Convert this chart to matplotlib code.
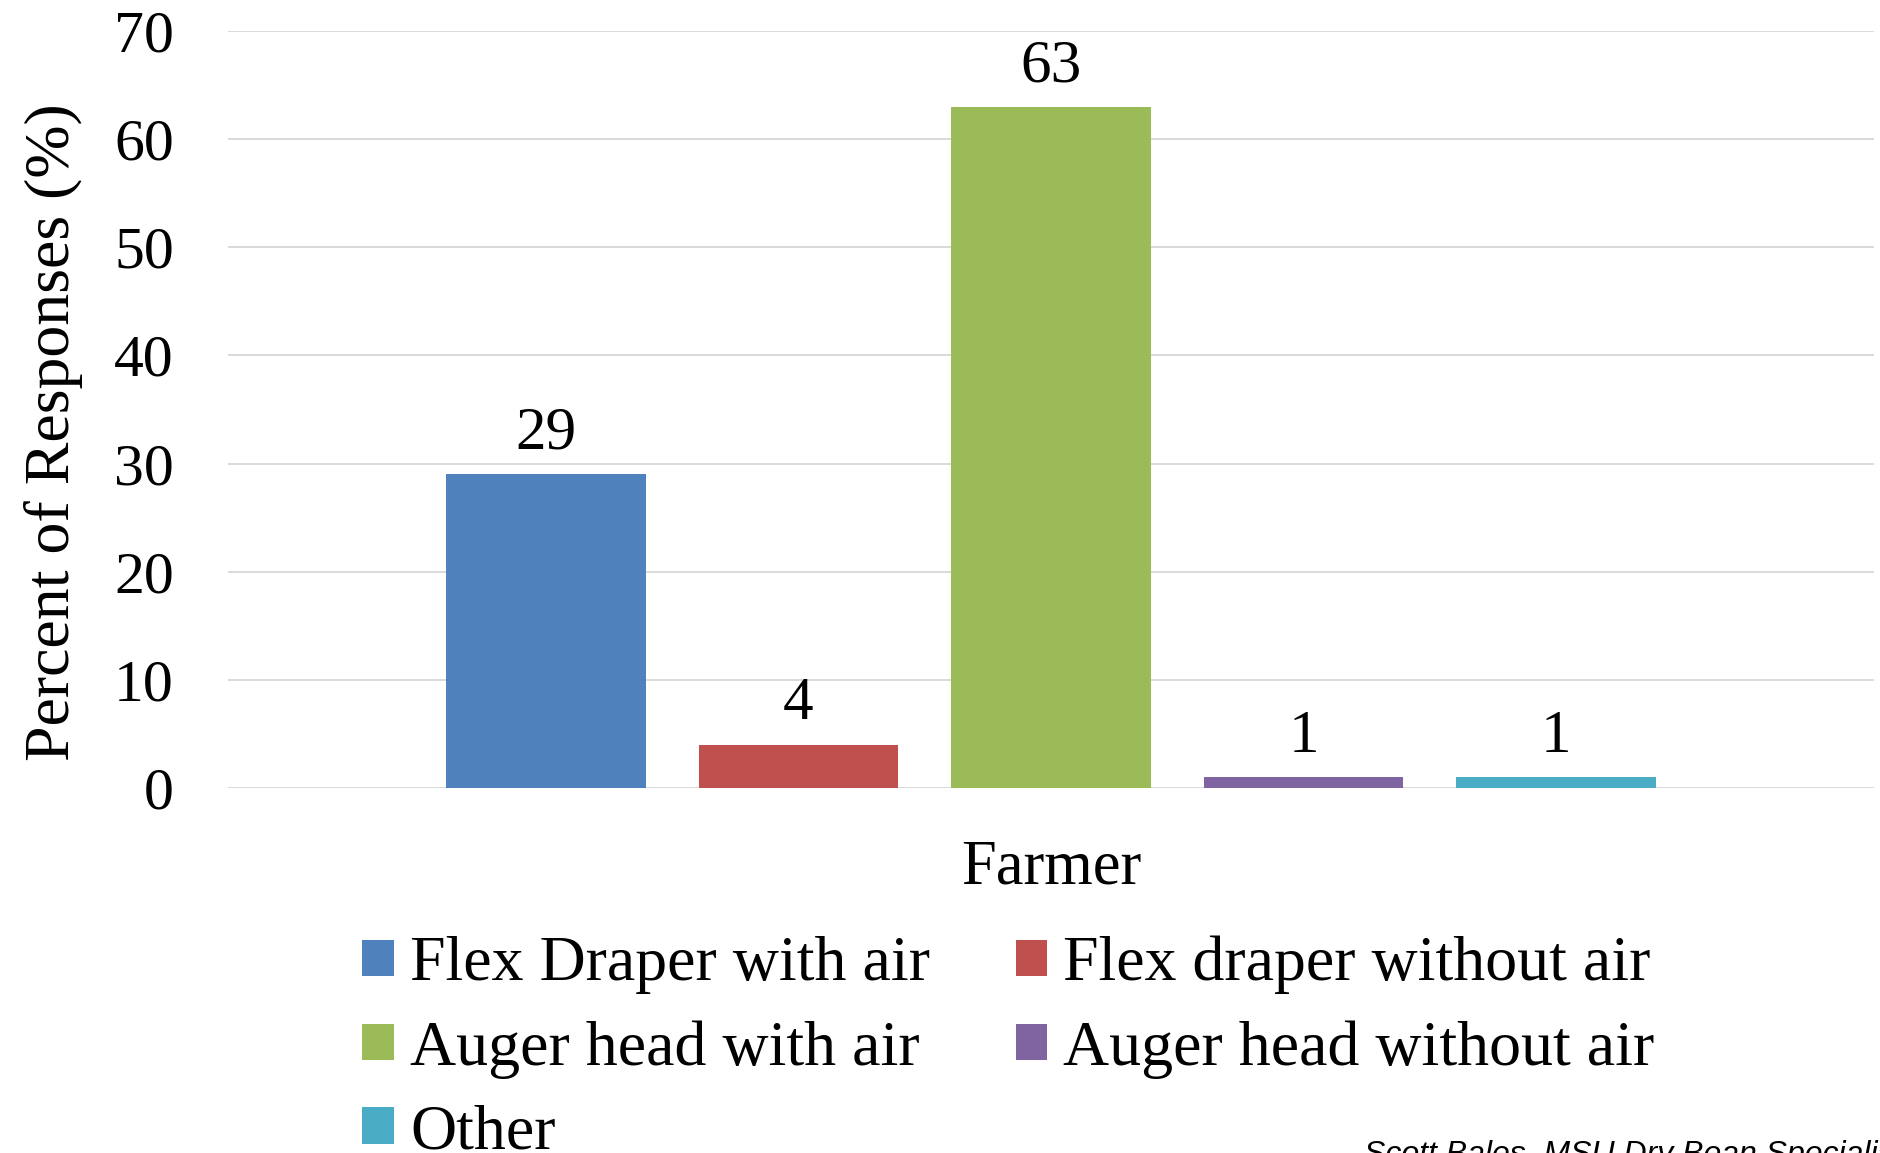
import matplotlib.pyplot as plt
from matplotlib.patches import Patch

## chart data
category = "Farmer"
series = ["Flex Draper with air", "Flex draper without air", "Auger head with air",
          "Auger head without air", "Other"]
values = [29, 4, 63, 1, 1]
colors = ["#4F81BD", "#C0504D", "#9BBB59", "#8064A2", "#4BACC6"]
yticks = [0, 10, 20, 30, 40, 50, 60, 70]

plt.rcParams["font.family"] = ["Liberation Serif", "DejaVu Serif"]

W, H = 1880, 1153
fig = plt.figure(figsize=(W / 100, H / 100), dpi=100)
ax = fig.add_axes([228 / W, 1 - 788 / H, (1874 - 228) / W, (788 - 31) / H])

pitch = 0.1534
width = 0.121
for i, (name, v, c) in enumerate(zip(series, values, colors)):
    x = (i - 2) * pitch
    ax.bar(x, v, width=width, color=c, label=name, zorder=2)
    ax.annotate(str(v), (x, v), xytext=(0, 9), textcoords="offset points",
                ha="center", va="bottom", fontsize=44, annotation_clip=False)

ax.set_xlim(-0.5, 0.5)
ax.set_ylim(0, 70)
ax.set_yticks(yticks)
ax.set_xticks([0])
ax.set_xticklabels([category])
ax.tick_params(axis="y", length=0, pad=39, labelsize=43)
ax.tick_params(axis="x", length=0, pad=37, labelsize=45)
ax.yaxis.grid(True, color="#D9D9D9", linewidth=1.4, zorder=0)
ax.set_axisbelow(True)
for s in ax.spines.values():
    s.set_visible(False)

ax.set_ylabel("Percent of Responses (%)", fontsize=46, va="center")
ax.yaxis.set_label_coords(-0.106, 0.47)

## legend in row order (matplotlib fills columns first)
order = [0, 2, 4, 1, 3]
handles = [Patch(facecolor=colors[i]) for i in order]
labels = [series[i] for i in order]
fig.legend(handles, labels, ncol=2, frameon=False, fontsize=46,
           loc="upper left", bbox_to_anchor=(362 / W, 1 - 936 / H),
           handlelength=0.5, handleheight=0.5, handletextpad=0.25,
           labelspacing=0.4, columnspacing=1.34, borderaxespad=0, borderpad=0)

fig.text(1364 / W, 1 - 1140 / H, "Scott Bales, MSU Dry Bean Specialist",
         fontsize=23, style="italic", family=["Liberation Sans", "DejaVu Sans"],
         ha="left", va="top")

plt.savefig("out.png")
